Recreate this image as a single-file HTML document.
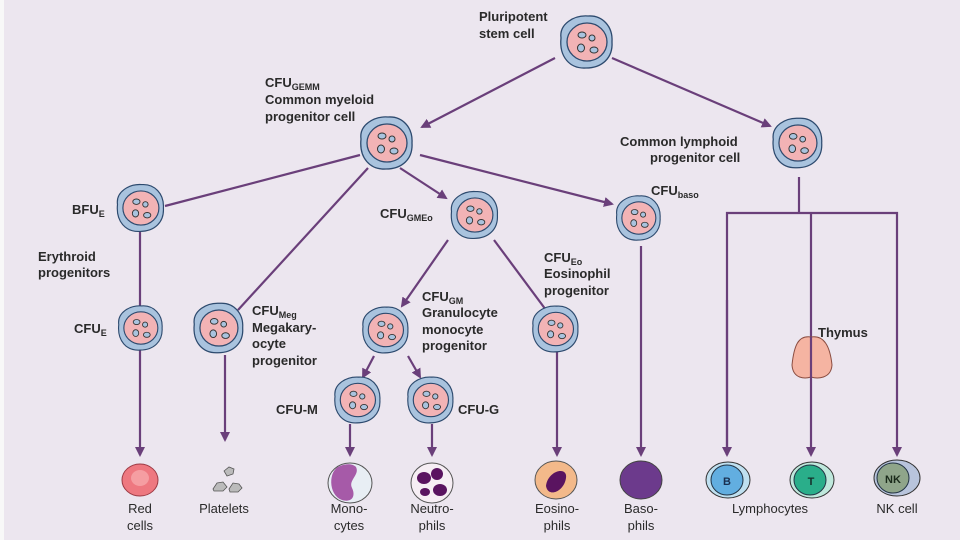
<!DOCTYPE html>
<html><head><meta charset="utf-8"><style>
html,body{margin:0;padding:0;background:#ece6ef;}
svg{display:block}
text{font-family:"Liberation Sans",sans-serif;font-size:13px;fill:#2a2a2a;}
.b{font-weight:bold}
</style></head><body>
<svg width="960" height="540" viewBox="0 0 960 540" xmlns="http://www.w3.org/2000/svg">
<defs>
<marker id="a" markerWidth="10" markerHeight="10" refX="8" refY="5" orient="auto" markerUnits="userSpaceOnUse">
<path d="M0,0 L10,5 L0,10 Z" fill="#6a3f7a"/></marker>
<g id="cell">
<path d="M-25,-4 C-27,-18 -12,-27 2,-26 C16,-27 27,-16 26,0 C27,16 16,26 0,26 C-16,27 -27,15 -25,-4Z" fill="#a9c3de" stroke="#2d4a6e" stroke-width="1.3"/>
<ellipse cx="1" cy="0" rx="20" ry="19" fill="#f2b3b5" stroke="#2d4a6e" stroke-width="1.3"/>
<ellipse cx="-4" cy="-7" rx="4" ry="3" fill="#a9c3de" stroke="#333" stroke-width="1"/>
<ellipse cx="6" cy="-4" rx="3" ry="3" fill="#a9c3de" stroke="#333" stroke-width="1"/>
<ellipse cx="-5" cy="6" rx="3.5" ry="4" fill="#a9c3de" stroke="#333" stroke-width="1"/>
<ellipse cx="8" cy="8" rx="4" ry="3" fill="#a9c3de" stroke="#333" stroke-width="1"/>
</g>
</defs>
<rect x="0" y="0" width="960" height="540" fill="#ece6ef"/>
<rect x="0" y="0" width="4" height="540" fill="#f8f8f8"/>
<g stroke="#6a3f7a" stroke-width="2.2" fill="none">
<line x1="555" y1="58" x2="422" y2="127" marker-end="url(#a)"/>
<line x1="612" y1="58" x2="770" y2="126" marker-end="url(#a)"/>
<line x1="360" y1="155" x2="165" y2="206"/>
<line x1="368" y1="168" x2="238" y2="310"/>
<line x1="400" y1="168" x2="446" y2="198" marker-end="url(#a)"/>
<line x1="420" y1="155" x2="612" y2="204" marker-end="url(#a)"/>
<line x1="140" y1="232" x2="140" y2="306"/>
<line x1="140" y1="350" x2="140" y2="455" marker-end="url(#a)"/>
<line x1="225" y1="355" x2="225" y2="440" marker-end="url(#a)"/>
<line x1="448" y1="240" x2="402" y2="306" marker-end="url(#a)"/>
<line x1="494" y1="240" x2="546" y2="310"/>
<line x1="374" y1="356" x2="363" y2="377" marker-end="url(#a)"/>
<line x1="408" y1="356" x2="420" y2="377" marker-end="url(#a)"/>
<line x1="350" y1="424" x2="350" y2="455" marker-end="url(#a)"/>
<line x1="432" y1="424" x2="432" y2="455" marker-end="url(#a)"/>
<line x1="557" y1="352" x2="557" y2="455" marker-end="url(#a)"/>
<line x1="641" y1="246" x2="641" y2="455" marker-end="url(#a)"/>
<line x1="799" y1="177" x2="799" y2="213"/>
<polyline points="727,455 727,213 897,213 897,455" marker-end="url(#a)"/>
<line x1="727" y1="300" x2="727" y2="455" marker-end="url(#a)"/>
<line x1="811" y1="213" x2="811" y2="455" marker-end="url(#a)"/>
</g>
<use href="#cell" transform="translate(586,42)"/>
<use href="#cell" transform="translate(386,143)"/>
<use href="#cell" transform="translate(797,143) scale(0.95)"/>
<use href="#cell" transform="translate(140,208) scale(0.9)"/>
<use href="#cell" transform="translate(474,215) scale(0.9)"/>
<use href="#cell" transform="translate(638,218) scale(0.85)"/>
<use href="#cell" transform="translate(140,328) scale(0.85)"/>
<use href="#cell" transform="translate(218,328) scale(0.95)"/>
<use href="#cell" transform="translate(385,330) scale(0.88)"/>
<use href="#cell" transform="translate(555,329) scale(0.88)"/>
<use href="#cell" transform="translate(357,400) scale(0.88)"/>
<use href="#cell" transform="translate(430,400) scale(0.88)"/>
<path d="M811,337 C798,335 794,346 792,365 C793,379 805,379 811,377 C817,379 831,379 832,365 C830,346 824,335 811,337Z" fill="#f5b4a2" stroke="#8a4c40" stroke-width="1"/>
<line x1="811" y1="337" x2="811" y2="378" stroke="#6a3f7a" stroke-width="2.2"/>
<ellipse cx="140" cy="480" rx="18" ry="16" fill="#ee7880" stroke="#9c3a44"/>
<ellipse cx="140" cy="478" rx="9" ry="8" fill="#f59ea2"/>
<g fill="#bbb" stroke="#555" stroke-width="0.8">
<path d="M224,471 l5,-4 5,2 -1,5 -6,2Z"/><path d="M213,489 l4,-6 6,-1 4,5 -4,4 -9,0Z"/><path d="M229,489 l4,-6 6,1 3,4 -4,4 -8,0Z"/></g>
<ellipse cx="350" cy="483" rx="22" ry="20" fill="#e8eef4" stroke="#555"/>
<path d="M340,466 C328,470 328,495 342,500 C352,503 356,496 352,488 C348,480 360,475 356,467 C352,463 345,464 340,466Z" fill="#a65aa8"/>
<ellipse cx="432" cy="483" rx="21" ry="20" fill="#f6eef4" stroke="#555"/>
<g fill="#5a1460"><ellipse cx="424" cy="478" rx="7" ry="6"/><ellipse cx="437" cy="474" rx="6" ry="6"/><ellipse cx="440" cy="490" rx="7" ry="6"/><ellipse cx="425" cy="492" rx="5" ry="4"/></g>
<ellipse cx="556" cy="480" rx="21" ry="19" fill="#f3b98a" stroke="#555"/>
<path d="M546,486 C548,470 568,466 566,478 C564,492 548,498 546,486Z" fill="#5a1460"/>
<ellipse cx="641" cy="480" rx="21" ry="19" fill="#6c3a8c" stroke="#444"/>
<ellipse cx="728" cy="480" rx="22" ry="18" fill="#bfe0f0" stroke="#333"/>
<ellipse cx="727" cy="480" rx="16" ry="15" fill="#62aee0" stroke="#234"/>
<text x="727" y="485" text-anchor="middle" class="b" style="font-size:11px;fill:#1a3050">B</text>
<ellipse cx="812" cy="480" rx="22" ry="18" fill="#bfe8dc" stroke="#333"/>
<ellipse cx="810" cy="480" rx="16" ry="15" fill="#2aae8a" stroke="#234"/>
<text x="811" y="485" text-anchor="middle" class="b" style="font-size:11px;fill:#16302a">T</text>
<ellipse cx="897" cy="478" rx="23" ry="18" fill="#b8c4dc" stroke="#333"/>
<ellipse cx="893" cy="478" rx="16" ry="15" fill="#8fa58a" stroke="#234"/>
<text x="893" y="483" text-anchor="middle" class="b" style="font-size:11px;fill:#1a2a1a">NK</text>
<text x="479" y="21" class="b">Pluripotent</text>
<text x="479" y="38" class="b">stem cell</text>
<text x="265" y="87" class="b">CFU<tspan style="font-size:9px" dy="3">GEMM</tspan></text>
<text x="265" y="104" class="b">Common myeloid</text>
<text x="265" y="121" class="b">progenitor cell</text>
<text x="620" y="146" class="b">Common lymphoid</text>
<text x="650" y="162" class="b">progenitor cell</text>
<text x="72" y="214" class="b">BFU<tspan style="font-size:9px" dy="3">E</tspan></text>
<text x="38" y="261" class="b">Erythroid</text>
<text x="38" y="277" class="b">progenitors</text>
<text x="74" y="333" class="b">CFU<tspan style="font-size:9px" dy="3">E</tspan></text>
<text x="252" y="315" class="b">CFU<tspan style="font-size:9px" dy="3">Meg</tspan></text>
<text x="252" y="332" class="b">Megakary-</text>
<text x="252" y="348" class="b">ocyte</text>
<text x="252" y="365" class="b">progenitor</text>
<text x="380" y="218" class="b">CFU<tspan style="font-size:9px" dy="3">GMEo</tspan></text>
<text x="651" y="195" class="b">CFU<tspan style="font-size:9px" dy="3">baso</tspan></text>
<text x="544" y="262" class="b">CFU<tspan style="font-size:9px" dy="3">Eo</tspan></text>
<text x="544" y="278" class="b">Eosinophil</text>
<text x="544" y="295" class="b">progenitor</text>
<text x="422" y="301" class="b">CFU<tspan style="font-size:9px" dy="3">GM</tspan></text>
<text x="422" y="317" class="b">Granulocyte</text>
<text x="422" y="334" class="b">monocyte</text>
<text x="422" y="350" class="b">progenitor</text>
<text x="276" y="414" class="b">CFU-M</text>
<text x="458" y="414" class="b">CFU-G</text>
<text x="818" y="337" class="b">Thymus</text>
<text x="140" y="513" text-anchor="middle">Red</text>
<text x="140" y="530" text-anchor="middle">cells</text>
<text x="224" y="513" text-anchor="middle">Platelets</text>
<text x="349" y="513" text-anchor="middle">Mono-</text>
<text x="349" y="530" text-anchor="middle">cytes</text>
<text x="432" y="513" text-anchor="middle">Neutro-</text>
<text x="432" y="530" text-anchor="middle">phils</text>
<text x="557" y="513" text-anchor="middle">Eosino-</text>
<text x="557" y="530" text-anchor="middle">phils</text>
<text x="641" y="513" text-anchor="middle">Baso-</text>
<text x="641" y="530" text-anchor="middle">phils</text>
<text x="770" y="513" text-anchor="middle">Lymphocytes</text>
<text x="897" y="513" text-anchor="middle">NK cell</text>
</svg>
</body></html>
